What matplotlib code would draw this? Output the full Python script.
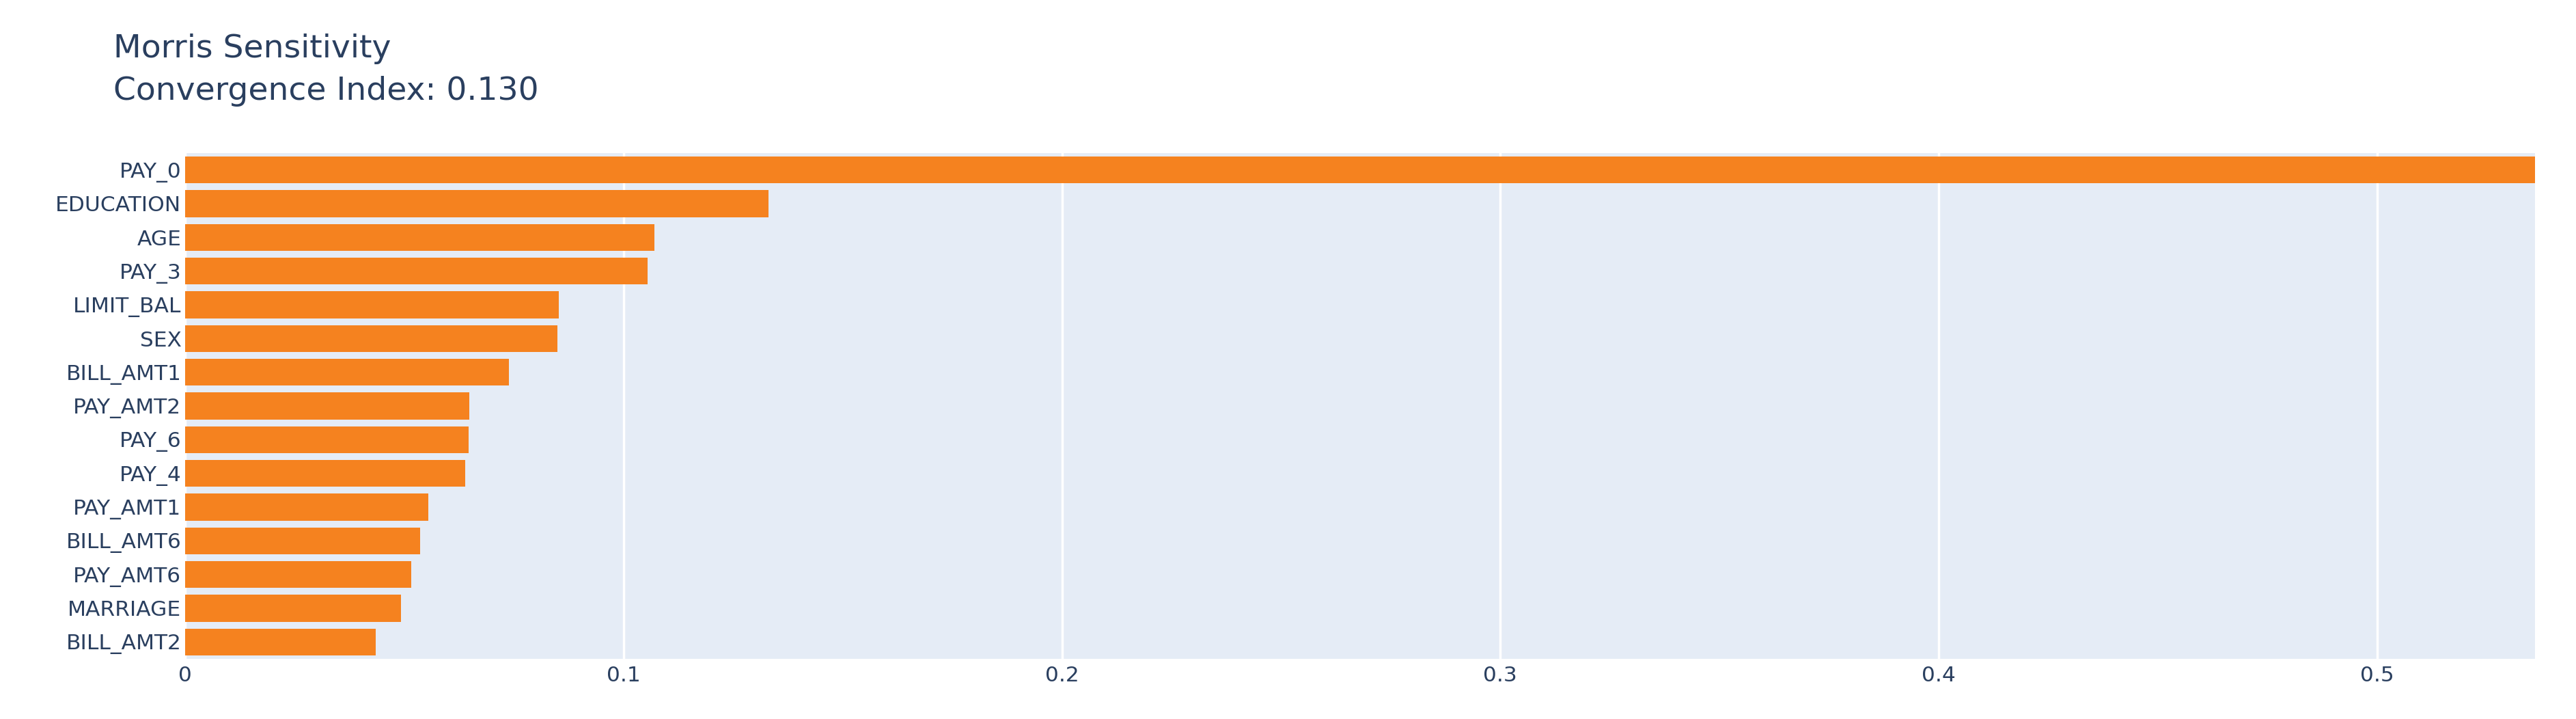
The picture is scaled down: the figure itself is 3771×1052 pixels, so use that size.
import matplotlib
matplotlib.use("Agg")
import matplotlib.pyplot as plt
import numpy as np

# Morris sensitivity values, top to bottom as shown
features = ['PAY_0', 'EDUCATION', 'AGE', 'PAY_3', 'LIMIT_BAL', 'SEX', 'BILL_AMT1',
            'PAY_AMT2', 'PAY_6', 'PAY_4', 'PAY_AMT1', 'BILL_AMT6', 'PAY_AMT6',
            'MARRIAGE', 'BILL_AMT2']
mu_star = [0.536, 0.133, 0.107, 0.1055, 0.0853, 0.0849, 0.0739,
           0.0648, 0.0647, 0.0639, 0.0555, 0.0536, 0.0515, 0.0493, 0.0434]
x_ticks = [0, 0.1, 0.2, 0.3, 0.4, 0.5]
title_lines = ['Morris Sensitivity', 'Convergence Index: 0.130']

txt_color = '#2a3f5f'
bar_color = '#f5821f'
plt.rcParams['font.family'] = ['DejaVu Sans']

fig = plt.figure(figsize=(37.71, 10.52), dpi=100)
ax = fig.add_axes([271 / 3771, 1 - 964 / 1052, (3711 - 271) / 3771, (964 - 224) / 1052])
ax.set_facecolor('#e5ecf6')

pos = np.arange(len(features))
ax.barh(pos, mu_star, height=0.8, color=bar_color, zorder=2)
ax.set_ylim(len(features) - 0.5, -0.5)
ax.set_xlim(0, max(mu_star))

ax.set_yticks(pos)
ax.set_yticklabels(features)
ax.set_xticks(x_ticks)
ax.set_xticklabels(['0', '0.1', '0.2', '0.3', '0.4', '0.5'])
ax.tick_params(axis='both', length=0, labelsize=22.5, labelcolor=txt_color)
ax.tick_params(axis='y', pad=4)
ax.tick_params(axis='x', pad=7)
ax.grid(axis='x', color='white', linewidth=2.5, zorder=1)
ax.set_axisbelow(True)
for s in ax.spines.values():
    s.set_visible(False)

fig.text(166 / 3771, 1 - 84 / 1052, title_lines[0], fontsize=34, color=txt_color, va='baseline')
fig.text(166 / 3771, 1 - 146 / 1052, title_lines[1], fontsize=34, color=txt_color, va='baseline')

fig.savefig('out.png', dpi=100, facecolor='white')
